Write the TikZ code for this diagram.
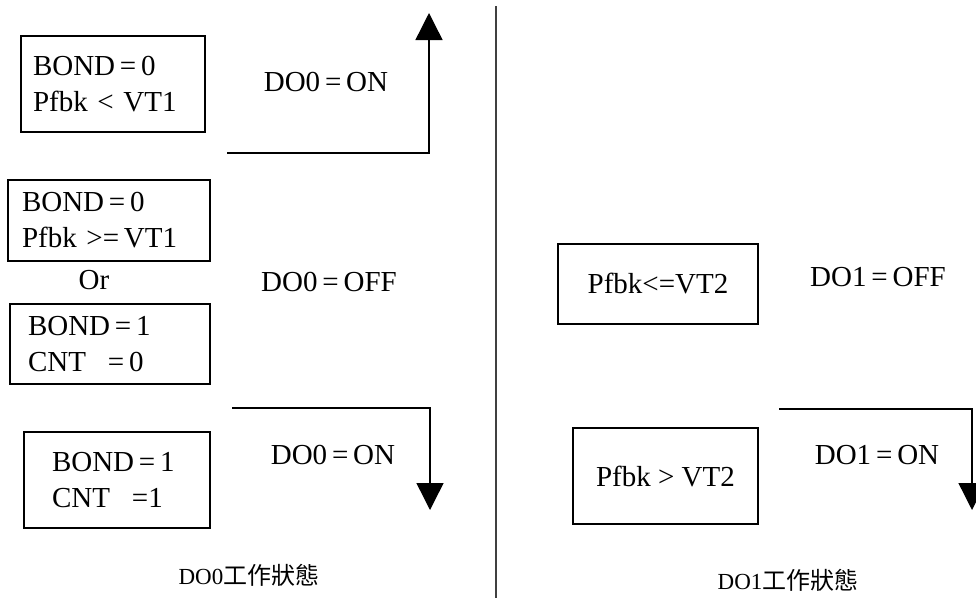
\documentclass[tikz,border=0pt]{standalone}
\usepackage{fontspec}
\setmainfont{Liberation Serif}
\newfontfamily\cjkfont{Noto Sans CJK TC}
\usetikzlibrary{arrows.meta}
\definecolor{lcol}{HTML}{000000}
\definecolor{dcol}{HTML}{404040}

\begin{document}
\begin{tikzpicture}[x=1pt, y=-1pt, >={Triangle[length=27pt, width=27pt]},
  condbox/.style={draw=lcol, line width=1.4pt, inner ysep=2pt, font=\fontsize{29}{36}\selectfont},
  statelbl/.style={font=\fontsize{29}{36}\selectfont, inner sep=0pt},
  caplbl/.style={font=\fontsize{23}{28}\selectfont, inner sep=0pt},
  flow/.style={->, lcol, line width=1.4pt}]
\useasboundingbox (0,0) rectangle (976,598);
% left half: DO0
\node[condbox, text width=160pt, inner xsep=12pt, minimum height=96pt, align=left] (c1) at (113,84) {BOND\,=\,0\\Pfbk < VT1};
\node[statelbl] (s1) at (326,82) {DO0\,=\,ON};
\coordinate (a1s) at (227,153);
\coordinate (a1e) at (429,13);
\draw[flow] (a1s) -| (a1e);
\node[condbox, text width=174pt, inner xsep=14pt, minimum height=81pt, align=left] (c2) at (109,220.5) {BOND\,=\,0\\Pfbk >=\,VT1};
\node[statelbl] (or) at (94,280) {Or};
\node[condbox, text width=164pt, inner xsep=18pt, minimum height=80pt, align=left] (c3) at (110,344) {BOND\,=\,1\\CNT\hspace{22pt}=\,0};
\node[statelbl] (s2) at (329,282) {DO0\,=\,OFF};
\coordinate (a2s) at (232,408);
\coordinate (a2e) at (430,510);
\draw[flow] (a2s) -| (a2e);
\node[condbox, text width=130pt, inner xsep=28pt, minimum height=96pt, align=left] (c4) at (117,480) {BOND\,=\,1\\CNT\hspace{22pt}=1};
\node[statelbl] (s3) at (333,455) {DO0\,=\,ON};
\node[caplbl] (t0) at (249,575) {DO0{\cjkfont\fontsize{24}{28}\selectfont 工作狀態}};
% divider
\coordinate (d0) at (496,6);
\coordinate (d1) at (496,598);
\draw[dcol, line width=2pt] (d0) -- (d1);
% right half: DO1
\node[condbox, minimum width=200pt, minimum height=80pt, align=center] (c5) at (658,284) {Pfbk<=VT2};
\node[statelbl] (s4) at (878,277) {DO1\,=\,OFF};
\coordinate (a3s) at (779,409);
\coordinate (a3e) at (972,510);
\draw[flow] (a3s) -| (a3e);
\node[condbox, minimum width=185pt, minimum height=96pt, align=center] (c6) at (665.5,476) {Pfbk > VT2};
\node[statelbl] (s5) at (877,455) {DO1\,=\,ON};
\node[caplbl] (t1) at (788,580) {DO1{\cjkfont\fontsize{24}{28}\selectfont 工作狀態}};
\end{tikzpicture}
\end{document}
